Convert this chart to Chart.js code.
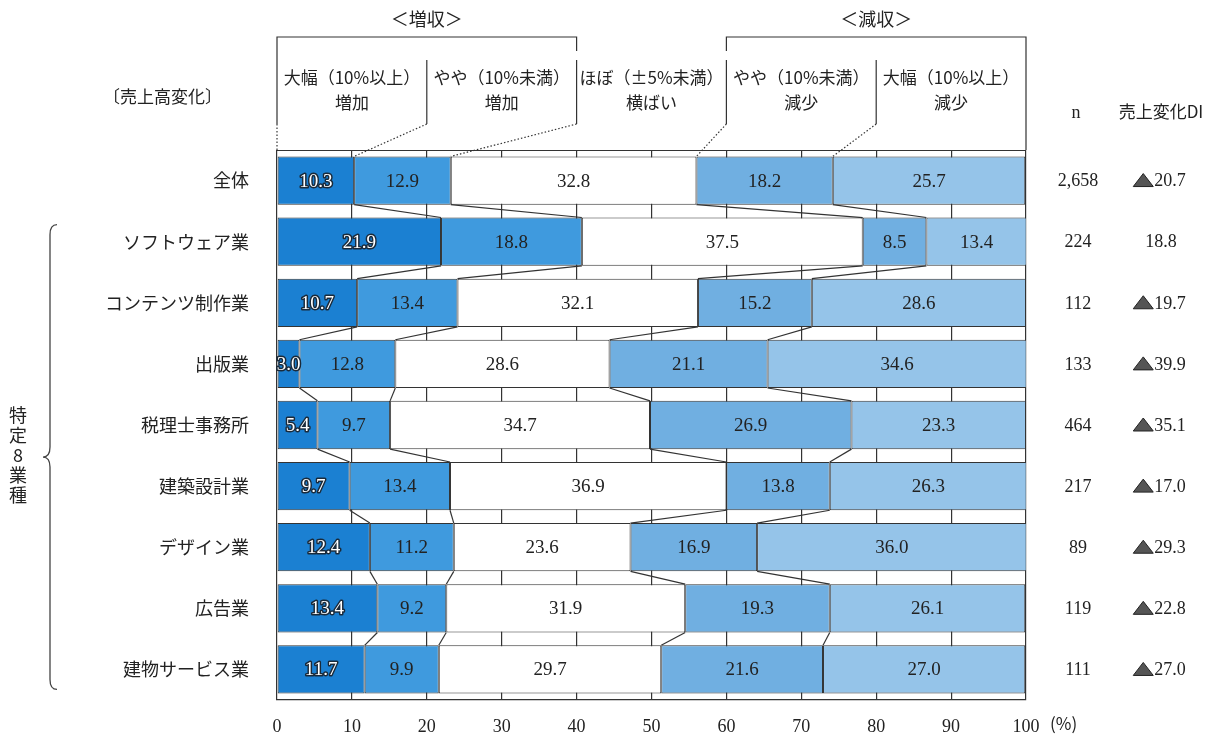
<!DOCTYPE html>
<html>
<head>
<meta charset="utf-8">
<script src="https://cdn.jsdelivr.net/npm/chart.js@4.4.1/dist/chart.umd.min.js"></script>
<style>
  html, body { margin: 0; padding: 0; background: #fff; }
  #wrap { width: 1221px; height: 741px; position: relative; }
</style>
</head>
<body>
<div id="wrap"><canvas id="chart" width="1221" height="741"></canvas></div>
<script>
const categories = ['全体', 'ソフトウェア業', 'コンテンツ制作業', '出版業', '税理士事務所', '建築設計業', 'デザイン業', '広告業', '建物サービス業']
const seriesNames = ['大幅（10%以上）増加', 'やや（10%未満）増加', 'ほぼ（±5%未満）横ばい', 'やや（10%未満）減少', '大幅（10%以上）減少']
const bigUp = [10.3, 21.9, 10.7, 3.0, 5.4, 9.7, 12.4, 13.4, 11.7]
const smallUp = [12.9, 18.8, 13.4, 12.8, 9.7, 13.4, 11.2, 9.2, 9.9]
const flat = [32.8, 37.5, 32.1, 28.6, 34.7, 36.9, 23.6, 31.9, 29.7]
const smallDown = [18.2, 8.5, 15.2, 21.1, 26.9, 13.8, 16.9, 19.3, 21.6]
const bigDown = [25.7, 13.4, 28.6, 34.6, 23.3, 26.3, 36.0, 26.1, 27.0]
const nValues = ['2,658', '224', '112', '133', '464', '217', '89', '119', '111']
const diValues = ['▲20.7', '18.8', '▲19.7', '▲39.9', '▲35.1', '▲17.0', '▲29.3', '▲22.8', '▲27.0']
const xTicks = [0, 10, 20, 30, 40, 50, 60, 70, 80, 90, 100]

const colors = ['#1b80d2', '#3f9ade', '#ffffff', '#70afe1', '#95c4e9']
const serif = '"Liberation Serif", "Noto Sans CJK JP", serif'
const jp = '"Noto Sans CJK JP", sans-serif'
const ink = '#222'

const seriesData = [bigUp, smallUp, flat, smallDown, bigDown]

// value labels inside segments
const segmentLabels = {
  id: 'segmentLabels',
  afterDatasetsDraw (chart) {
    const ctx = chart.ctx
    ctx.save()
    ctx.font = '19px ' + serif
    ctx.textAlign = 'center'
    ctx.textBaseline = 'middle'
    chart.data.datasets.forEach((ds, di) => {
      chart.getDatasetMeta(di).data.forEach((bar, i) => {
        const cx = (bar.x + bar.base) / 2
        const txt = ds.data[i].toFixed(1)
        if (di === 0) {
          ctx.lineWidth = 3
          ctx.lineJoin = 'round'
          ctx.strokeStyle = '#1a2a3a'
          ctx.strokeText(txt, cx, bar.y + 1)
          ctx.fillStyle = '#ffffff'
          ctx.fillText(txt, cx, bar.y + 1)
        } else {
          ctx.fillStyle = ink
          ctx.fillText(txt, cx, bar.y + 1)
        }
      })
    })
    ctx.restore()
  }
}

// frame lines, connectors between bars, header, right columns, brace
const decorations = {
  id: 'decorations',
  beforeDatasetsDraw (chart) {
    const { ctx, chartArea: a } = chart
    ctx.save()
    ctx.strokeStyle = '#333'
    ctx.lineWidth = 1.2
    ctx.beginPath()
    ctx.moveTo(a.left, a.top + 0.5)
    ctx.lineTo(a.right, a.top + 0.5)
    ctx.stroke()
    ctx.restore()
  },
  afterDatasetsDraw (chart) {
    const { ctx, chartArea: a, scales } = chart
    const xs = scales.x
    const n = categories.length
    ctx.save()

    // connectors between adjacent bars at each stack boundary
    ctx.strokeStyle = '#333'
    ctx.lineWidth = 1.2
    for (let k = 0; k < 4; k++) {
      const meta = chart.getDatasetMeta(k)
      for (let i = 0; i < n - 1; i++) {
        const b1 = meta.data[i]
        const b2 = meta.data[i + 1]
        ctx.beginPath()
        ctx.moveTo(b1.x, b1.y + b1.height / 2)
        ctx.lineTo(b2.x, b2.y - b2.height / 2)
        ctx.stroke()
      }
    }

    // header
    const p = v => xs.getPixelForValue(v)
    const top = a.top
    ctx.fillStyle = ink
    ctx.textAlign = 'center'
    ctx.textBaseline = 'middle'
    ctx.font = '18px ' + jp
    ctx.fillText('＜増収＞', p(20), top - 131)
    ctx.fillText('＜減収＞', p(80), top - 131)

    ctx.lineWidth = 1.2
    ctx.strokeStyle = '#333'
    // group brackets
    const brTop = top - 113
    ctx.beginPath()
    ctx.moveTo(p(0), brTop + 14); ctx.lineTo(p(0), brTop); ctx.lineTo(p(40), brTop); ctx.lineTo(p(40), brTop + 14)
    ctx.moveTo(p(60), brTop + 14); ctx.lineTo(p(60), brTop); ctx.lineTo(p(100), brTop); ctx.lineTo(p(100), brTop + 14)
    ctx.stroke()
    // column separators
    const colTop = top - 90
    const colBot = top - 26
    ctx.beginPath()
    ;[0, 20, 40, 60, 80, 100].forEach(v => {
      ctx.moveTo(p(v), colTop); ctx.lineTo(p(v), colBot)
    })
    ctx.moveTo(p(0), brTop + 14); ctx.lineTo(p(0), colTop)
    ctx.moveTo(p(100), brTop + 14); ctx.lineTo(p(100), colTop)
    ctx.moveTo(p(100), colBot); ctx.lineTo(p(100), top)
    ctx.stroke()
    // dotted leaders to the first bar
    ctx.setLineDash([1.5, 2])
    ctx.beginPath()
    ctx.moveTo(p(0), colBot); ctx.lineTo(p(0), top)
    const first = [0, 1, 2, 3].map(k => chart.getDatasetMeta(k).data[0])
    ;[20, 40, 60, 80].forEach((v, j) => {
      ctx.moveTo(p(v), colBot)
      ctx.lineTo(first[j].x, first[j].y - first[j].height / 2)
    })
    ctx.stroke()
    ctx.setLineDash([])

    const heads = [['大幅（10%以上）', '増加'], ['やや（10%未満）', '増加'], ['ほぼ（±5%未満）', '横ばい'], ['やや（10%未満）', '減少'], ['大幅（10%以上）', '減少']]
    ctx.font = '17px ' + jp
    heads.forEach((h, j) => {
      const cx = p(j * 20 + 10)
      ctx.fillText(h[0], cx, top - 72)
      ctx.fillText(h[1], cx, top - 47)
    })
    ctx.textAlign = 'right'
    ctx.font = '17px ' + jp
    ctx.fillText('〔売上高変化〕', a.left - 55, top - 53)

    // right columns
    ctx.textAlign = 'center'
    ctx.font = '18px ' + serif
    ctx.fillText('n', a.right + 50, top - 37)
    ctx.font = '17px ' + jp
    ctx.fillText('売上変化DI', a.right + 135, top - 38)
    ctx.font = '18px ' + serif
    const meta0 = chart.getDatasetMeta(0)
    meta0.data.forEach((bar, i) => {
      ctx.fillStyle = ink
      ctx.fillText(nValues[i], a.right + 52, bar.y + 1)
      const di = diValues[i]
      if (di.startsWith('▲')) {
        const num = di.slice(1)
        const w = ctx.measureText(num).width
        const cx = a.right + 140
        ctx.textAlign = 'left'
        ctx.fillText(num, cx - w / 2 + 4, bar.y + 1)
        ctx.fillStyle = '#555'
        ctx.strokeStyle = '#222'
        ctx.lineWidth = 1
        const tx = cx - w / 2 - 7
        ctx.beginPath()
        ctx.moveTo(tx - 10, bar.y + 6)
        ctx.lineTo(tx + 10, bar.y + 6)
        ctx.lineTo(tx, bar.y - 7)
        ctx.closePath()
        ctx.fill()
        ctx.stroke()
        ctx.textAlign = 'center'
      } else {
        ctx.fillText(di, a.right + 135, bar.y + 1)
      }
    })
    ctx.fillStyle = ink
    ctx.textAlign = 'left'
    ctx.font = '17px ' + jp
    ctx.fillText('(%)', a.right + 24, a.bottom + 24)

    // brace for the eight industries
    const b1 = meta0.data[1]
    const b8 = meta0.data[n - 1]
    const y0 = b1.y - 17
    const y1 = b8.y + 20
    const ym = (y0 + y1) / 2
    const bx = 57
    ctx.strokeStyle = '#444'
    ctx.lineWidth = 1.3
    ctx.beginPath()
    ctx.moveTo(bx, y0)
    ctx.quadraticCurveTo(bx - 7, y0, bx - 7, y0 + 10)
    ctx.lineTo(bx - 7, ym - 10)
    ctx.quadraticCurveTo(bx - 7, ym, bx - 14, ym)
    ctx.quadraticCurveTo(bx - 7, ym, bx - 7, ym + 10)
    ctx.lineTo(bx - 7, y1 - 10)
    ctx.quadraticCurveTo(bx - 7, y1, bx, y1)
    ctx.stroke()
    ctx.font = '18px ' + jp
    ctx.textAlign = 'center'
    ctx.fillStyle = ink
    ;['特', '定', '8', '業', '種'].forEach((ch, j) => {
      ctx.fillText(ch, 18, ym - 42 + j * 20)
    })
    ctx.restore()
  }
}

new Chart(document.getElementById('chart'), {
  type: 'bar',
  data: {
    labels: categories,
    datasets: seriesData.map((d, i) => ({
      label: seriesNames[i],
      data: d,
      backgroundColor: colors[i],
      borderColor: '#333',
      borderWidth: 1,
      borderSkipped: false,
      barPercentage: 0.79,
      categoryPercentage: 1
    }))
  },
  options: {
    indexAxis: 'y',
    responsive: false,
    animation: false,
    layout: { padding: { top: 150, right: 195, bottom: 0, left: 0 } },
    plugins: { legend: { display: false }, tooltip: { enabled: false } },
    scales: {
      x: {
        stacked: true,
        min: 0,
        max: 100,
        afterBuildTicks: s => { s.ticks = xTicks.map(v => ({ value: v })) },
        afterFit: s => { s.height = 41 },
        ticks: { color: ink, font: { family: serif, size: 18 }, padding: 16, maxRotation: 0 },
        grid: { color: '#333', lineWidth: 1.2, drawTicks: false },
        border: { color: '#333', width: 1.2 }
      },
      y: {
        stacked: true,
        afterFit: s => { s.width = 277 },
        ticks: { color: ink, font: { family: jp, size: 18 }, padding: 20 },
        grid: { display: false },
        border: { display: false }
      }
    }
  },
  plugins: [segmentLabels, decorations]
})
</script>
</body>
</html>
